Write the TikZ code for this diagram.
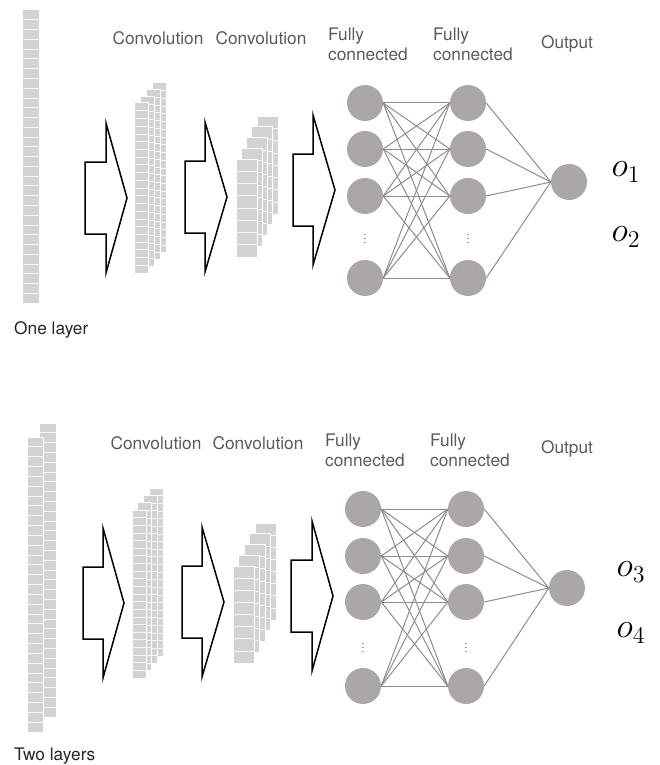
\documentclass[tikz,border=0pt]{standalone}
\usepackage{fontspec}
\setsansfont{TeX Gyre Heros}
\definecolor{cellgray}{HTML}{D2D2D2}
\definecolor{nodegray}{HTML}{AAA7A6}
\definecolor{linkgray}{HTML}{8C8C8C}
\definecolor{textgray}{HTML}{5A5A5A}
% one column of cells: x, y, width, height, number of cells
\newcommand{\cellcolumn}[5]{%
  \fill[cellgray] (#1,#2) rectangle ++(#3,#4);
  \foreach \k in {1,...,#5} \draw[white!80!cellgray,line width=0.7pt] (#1,#2+\k*#4/#5) -- ++(#3,0);
  \draw[white,line width=1pt] (#1,#2) rectangle ++(#3,#4);
}
% big output symbol
\newcommand{\outsym}[1]{\scalebox{2.0}{\LARGE$o_{#1}$}}
\begin{document}
\begin{tikzpicture}[x=1pt,y=1pt,yscale=-1,xscale=1,
    neuron/.style={circle,fill=nodegray,minimum size=36pt,inner sep=0pt},
    synapse/.style={draw=linkgray,line width=1pt},
    blockarrow/.style={draw=black,line width=1.5pt,line join=miter},
    lbl/.style={font=\sffamily\fontsize{17.3}{20}\selectfont,text=textgray,inner sep=0pt},
    caption/.style={font=\sffamily\fontsize{17.3}{20}\selectfont,text=black!85,inner sep=0pt,anchor=west},
    outlbl/.style={inner sep=0pt},
    dotsnode/.style={font=\large,text=black!80,inner sep=0pt}]
\useasboundingbox (0,0) rectangle (660,765);

%% ---------------- one layer ----------------
\cellcolumn{22}{10}{17}{293}{30}
\foreach \s in {3,2,1,0} {\cellcolumn{134+6*\s}{103-6.7*\s}{14}{170}{22}}
\foreach \s in {4,3,2,1,0} {\cellcolumn{236+5.25*\s}{159-10.7*\s}{21}{98}{8}}

\foreach \xa/\xb/\xc/\yc in {85/106/127/198, 185/205/227/197, 293/313/335/190}
  \draw[blockarrow] (\xa,\yc-36) -- (\xb,\yc-36) -- (\xb,\yc-75) -- (\xc,\yc)
    -- (\xb,\yc+75) -- (\xb,\yc+36) -- (\xa,\yc+36) -- cycle;

\node[lbl] (tconv1) at (158,38) {Convolution};
\node[lbl] (tconv2) at (261,38) {Convolution};
\node[lbl,anchor=west,align=left] (tfc1) at (328,44) {Fully\\connected};
\node[lbl,anchor=west,align=left] (tfc2) at (433,44) {Fully\\connected};
\node[lbl] (toutput) at (567,44) {Output};
\node[caption] (tcap) at (14,330) {One layer};

\node[neuron] (ta1) at (365,103) {};
\node[neuron] (ta2) at (365,149) {};
\node[neuron] (ta3) at (365,196) {};
\node[neuron] (ta4) at (365,278) {};
\node[neuron] (tb1) at (468,103) {};
\node[neuron] (tb2) at (468,149) {};
\node[neuron] (tb3) at (468,196) {};
\node[neuron] (tb4) at (468,278) {};
\node[neuron] (tout) at (569,182) {};
\node[dotsnode] (tadots) at (365,236) {$\vdots$};
\node[dotsnode] (tbdots) at (468,236) {$\vdots$};

\foreach \i in {1,...,4}
  \foreach \j in {1,...,4}
    \draw[synapse] (ta\i.east) -- (tb\j.west);
\foreach \j in {1,...,4}
  \draw[synapse] (tb\j.east) -- (tout.west);

\node[outlbl] (to1) at (626,172) {\outsym{1}};
\node[outlbl] (to2) at (626,237) {\outsym{2}};

%% ---------------- two layers ----------------
\cellcolumn{39}{423}{17}{294}{30}
\cellcolumn{27}{437}{16}{295}{30}
\foreach \s in {3,2,1,0} {\cellcolumn{132+5.7*\s}{510-7.3*\s}{14}{168}{22}}
\foreach \s in {4,3,2,1,0} {\cellcolumn{233+5.5*\s}{566-10.75*\s}{21}{97}{8}}

\foreach \xa/\xb/\xc/\yc in {83/103/124/603, 182/202/224/602, 291/312/333/596}
  \draw[blockarrow] (\xa,\yc-36) -- (\xb,\yc-36) -- (\xb,\yc-75) -- (\xc,\yc)
    -- (\xb,\yc+75) -- (\xb,\yc+36) -- (\xa,\yc+36) -- cycle;

\node[lbl] (bconv1) at (156,443) {Convolution};
\node[lbl] (bconv2) at (258,443) {Convolution};
\node[lbl,anchor=west,align=left] (bfc1) at (325,450) {Fully\\connected};
\node[lbl,anchor=west,align=left] (bfc2) at (430,450) {Fully\\connected};
\node[lbl] (boutput) at (567,449) {Output};
\node[caption] (bcap) at (14,756) {Two layers};

\node[neuron] (ba1) at (363,509) {};
\node[neuron] (ba2) at (363,556) {};
\node[neuron] (ba3) at (363,602) {};
\node[neuron] (ba4) at (363,686) {};
\node[neuron] (bb1) at (466,509) {};
\node[neuron] (bb2) at (466,556) {};
\node[neuron] (bb3) at (466,602) {};
\node[neuron] (bb4) at (466,686) {};
\node[neuron] (bout) at (567,588) {};
\node[dotsnode] (badots) at (363,645) {$\vdots$};
\node[dotsnode] (bbdots) at (466,645) {$\vdots$};

\foreach \i in {1,...,4}
  \foreach \j in {1,...,4}
    \draw[synapse] (ba\i.east) -- (bb\j.west);
\foreach \j in {1,...,4}
  \draw[synapse] (bb\j.east) -- (bout.west);

\node[outlbl] (bo3) at (631,572) {\outsym{3}};
\node[outlbl] (bo4) at (631,633) {\outsym{4}};
\end{tikzpicture}
\end{document}
